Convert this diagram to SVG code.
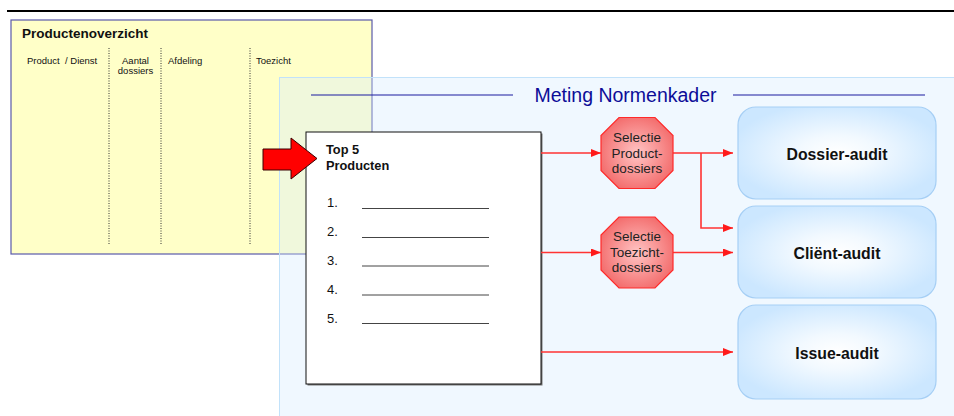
<svg xmlns="http://www.w3.org/2000/svg" width="954" height="416" viewBox="0 0 954 416">
<defs>
<style>
text{font-family:"Liberation Sans",Arial,sans-serif;}
.hdr{font-size:9.5px;fill:#111;}
.num{font-size:13px;fill:#111;}
.oct{font-size:13.5px;fill:#222;text-anchor:middle;}
.aud{font-size:15.8px;font-weight:bold;fill:#111;text-anchor:middle;}
.dot{stroke:#333;stroke-width:1;stroke-dasharray:1 1.5;}
.ul{stroke:#444;stroke-width:1;}
.con{stroke:#ff3333;stroke-width:1.6;fill:none;}
.octs{fill:url(#octg);stroke:#ff2a2a;stroke-width:1.2;}
.box{fill:url(#boxg);stroke:#a6cff5;stroke-width:1.2;}
</style>
<radialGradient id="octg" cx="50%" cy="50%" r="60%">
<stop offset="0" stop-color="#ffc4c4"/>
<stop offset="1" stop-color="#f26464"/>
</radialGradient>
<radialGradient id="boxg" cx="50%" cy="50%" r="55%">
<stop offset="0" stop-color="#ffffff"/>
<stop offset="0.35" stop-color="#f2f9ff"/>
<stop offset="1" stop-color="#cce7ff"/>
</radialGradient>
<marker id="ah" markerUnits="userSpaceOnUse" markerWidth="11" markerHeight="9" refX="10" refY="4" orient="auto">
<path d="M0,0 L10,4 L0,8 z" fill="#ff1a1a"/>
</marker>
</defs>
<rect width="954" height="416" fill="#ffffff"/>
<line x1="7" y1="11" x2="954" y2="11" stroke="#000" stroke-width="2.2"/>

<g id="productenoverzicht">
<rect x="11" y="20" width="361" height="234" fill="#ffffc8" stroke="#5a5aaa" stroke-width="1.2"/>
<text x="22" y="38" font-size="13.5" font-weight="bold" fill="#111">Productenoverzicht</text>
<text class="hdr" x="27" y="64" style="white-space:pre">Product  / Dienst</text>
<text class="hdr" x="135.5" y="64" text-anchor="middle">Aantal</text>
<text class="hdr" x="135.5" y="74" text-anchor="middle">dossiers</text>
<text class="hdr" x="168" y="64">Afdeling</text>
<text class="hdr" x="256" y="64">Toezicht</text>
<line class="dot" x1="109" y1="48" x2="109" y2="245"/>
<line class="dot" x1="161" y1="48" x2="161" y2="245"/>
<line class="dot" x1="250" y1="48" x2="250" y2="245"/>
</g>

<g id="meting-normenkader">
<rect x="279.5" y="77.5" width="690" height="350" fill="#d5ecff" fill-opacity="0.36" stroke="#c2e2fa" stroke-width="1"/>
<line x1="311" y1="95" x2="513" y2="95" stroke="#1a1aa0" stroke-width="1.2"/>
<line x1="733" y1="95" x2="925" y2="95" stroke="#1a1aa0" stroke-width="1.2"/>
<text x="625.5" y="102" font-size="19.5" fill="#0c0c98" text-anchor="middle">Meting Normenkader</text>
</g>

<g id="top5">
<rect x="307.5" y="133.5" width="235" height="252" fill="#777"/>
<rect x="306" y="132" width="235" height="252" fill="#ffffff" stroke="#111" stroke-width="1"/>
<text x="326" y="154" font-size="12.8" font-weight="bold" fill="#111">Top 5</text>
<text x="326" y="170" font-size="12.8" font-weight="bold" fill="#111">Producten</text>
<text class="num" x="327" y="207">1.</text>
<text class="num" x="327" y="236">2.</text>
<text class="num" x="327" y="265">3.</text>
<text class="num" x="327" y="294">4.</text>
<text class="num" x="327" y="323">5.</text>
<line class="ul" x1="362" y1="208.5" x2="489" y2="208.5"/>
<line class="ul" x1="362" y1="237.5" x2="489" y2="237.5"/>
<line class="ul" x1="362" y1="266" x2="489" y2="266"/>
<line class="ul" x1="362" y1="295" x2="489" y2="295"/>
<line class="ul" x1="362" y1="323.5" x2="489" y2="323.5"/>
</g>

<g id="big-arrow">
<polygon points="263,149 291,149 291,138 317,158.5 291,179 291,170 263,170" fill="#ff0000" stroke="#3a0000" stroke-width="1"/>
</g>

<g id="connectors">
<path class="con" d="M541,153 H601" marker-end="url(#ah)"/>
<path class="con" d="M673,153 H733" marker-end="url(#ah)"/>
<path class="con" d="M701,153 V228 H733" marker-end="url(#ah)"/>
<path class="con" d="M541,252.5 H601" marker-end="url(#ah)"/>
<path class="con" d="M673,252.5 H733" marker-end="url(#ah)"/>
<path class="con" d="M541,352 H733" marker-end="url(#ah)"/>
</g>

<g id="selectie-product">
<polygon class="octs" points="619,117.5 655,117.5 673,135.5 673,170.5 655,188.5 619,188.5 601,170.5 601,135.5"/>
<text class="oct" x="637" y="142">Selectie</text>
<text class="oct" x="637" y="157.5">Product-</text>
<text class="oct" x="637" y="173">dossiers</text>
</g>

<g id="selectie-toezicht">
<polygon class="octs" points="619,217 655,217 673,235 673,270 655,288 619,288 601,270 601,235"/>
<text class="oct" x="637" y="241">Selectie</text>
<text class="oct" x="637" y="256.5">Toezicht-</text>
<text class="oct" x="637" y="272">dossiers</text>
</g>

<g id="dossier-audit">
<rect class="box" x="738" y="107" width="198" height="92" rx="18" ry="18"/>
<text class="aud" x="837" y="159.5">Dossier-audit</text>
</g>

<g id="client-audit">
<rect class="box" x="738" y="206" width="198" height="92" rx="18" ry="18"/>
<text class="aud" x="837" y="258.5">Cliënt-audit</text>
</g>

<g id="issue-audit">
<rect class="box" x="738" y="305" width="198" height="94" rx="18" ry="18"/>
<text class="aud" x="837" y="358.5">Issue-audit</text>
</g>
</svg>
